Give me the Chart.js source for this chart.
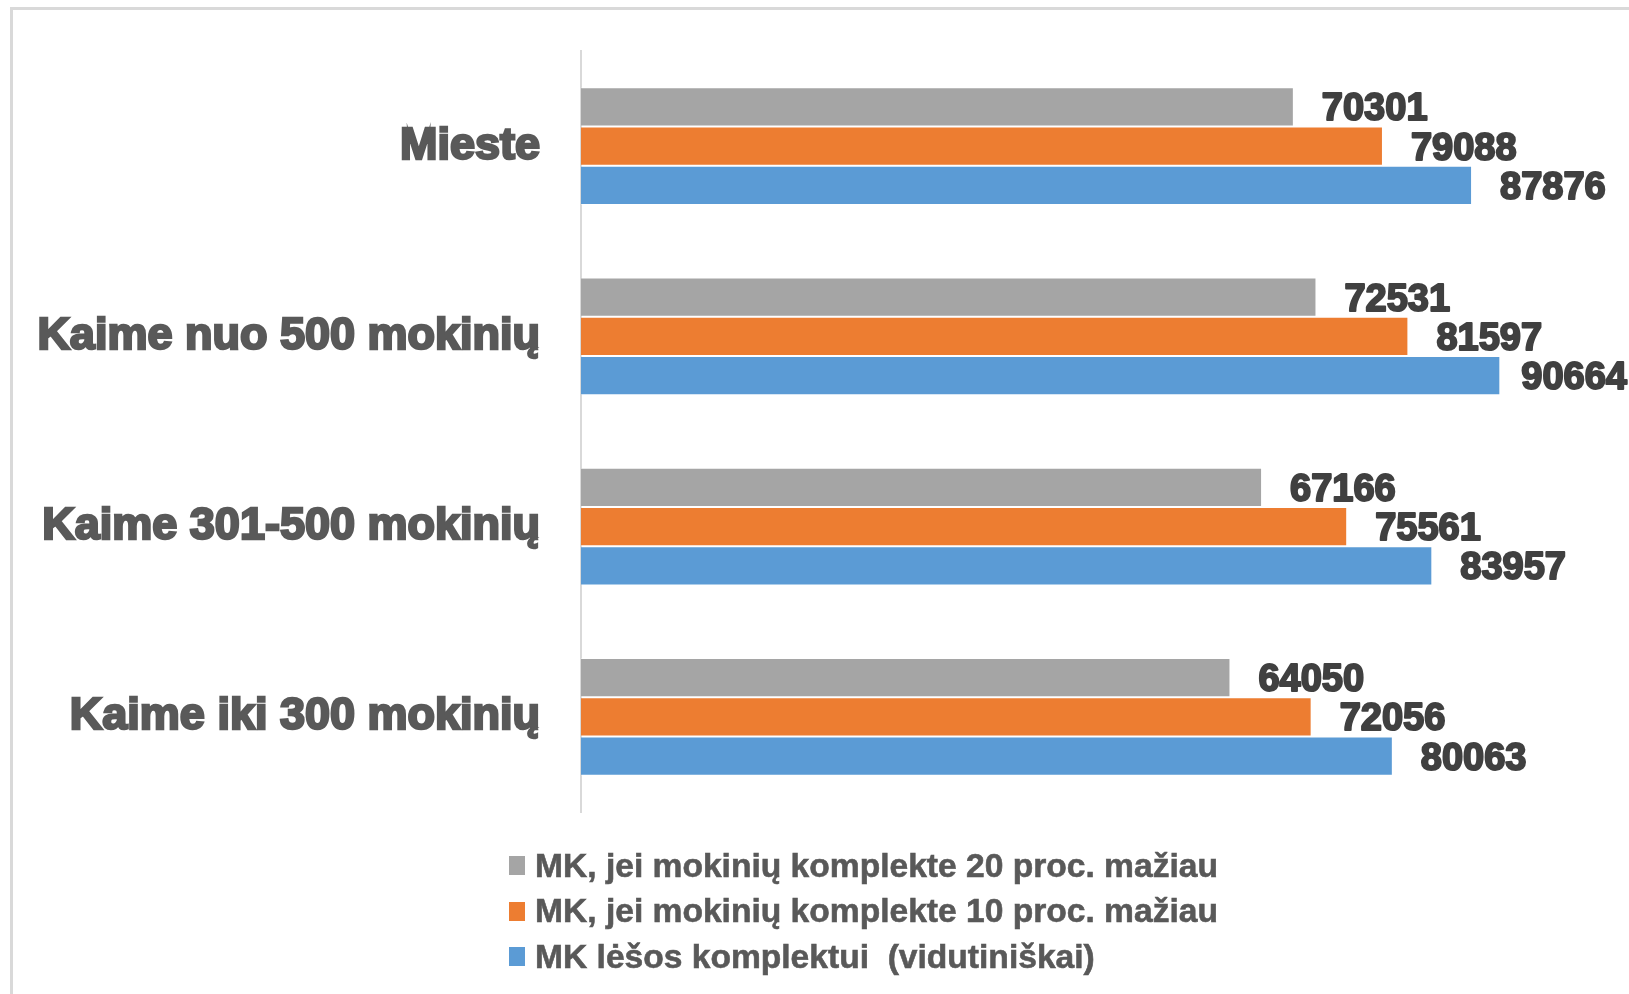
<!DOCTYPE html>
<html>
<head>
<meta charset="utf-8">
<script src="https://cdn.jsdelivr.net/npm/chart.js@4"></script>
<style>
  html, body { margin: 0; padding: 0; background: #fff; overflow: hidden; }
  #frame { position: absolute; left: 10px; top: 7px; width: 2000px; height: 2000px;
           border-left: 3px solid #d9d9d9; border-top: 3px solid #d9d9d9; }
  #wrap { position: absolute; left: 0; top: 0; width: 1629px; height: 994px; }
  #legend { position: absolute; left: 509px; top: 843px; font-family: 'Liberation Sans', Arial, sans-serif;
            font-weight: bold; font-size: 33.6px; color: #595959; -webkit-text-stroke: 0.6px #595959;
            white-space: pre; }
  #legend .row { display: flex; align-items: center; height: 45.5px; }
  #legend .box { width: 16px; height: 19px; margin-right: 10px; }
</style>
</head>
<body>
<div id="frame"></div>
<div id="wrap"><canvas id="barChart"></canvas></div>
<div id="legend"></div>
<script>
(() => {
    'use strict';

    // Duomenys
    const categories = ['Mieste', 'Kaime nuo 500 mokinių', 'Kaime 301-500 mokinių', 'Kaime iki 300 mokinių'];
    const seriesNames = [
        'MK, jei mokinių komplekte 20 proc. mažiau',
        'MK, jei mokinių komplekte 10 proc. mažiau',
        'MK lėšos komplektui  (vidutiniškai)'
    ];
    const less20 = [70301, 72531, 67166, 64050];
    const less10 = [79088, 81597, 75561, 72056];
    const average = [87876, 90664, 83957, 80063];
    const colors = ['#a5a5a5', '#ed7d31', '#5b9bd5'];

    const font = "'Liberation Sans', Arial, sans-serif";

    // Reikšmių etiketės prie stulpelių galo
    const valueLabels = {
        id: 'valueLabels',
        afterDatasetsDraw(chart) {
            const ctx = chart.ctx;
            ctx.save();
            ctx.font = 'bold 38px ' + font;
            ctx.fillStyle = '#404040';
            ctx.strokeStyle = '#404040';
            ctx.lineWidth = 2;
            ctx.lineJoin = 'round';
            ctx.textBaseline = 'middle';
            ctx.textAlign = 'left';
            chart.data.datasets.forEach((ds, i) => {
                chart.getDatasetMeta(i).data.forEach((bar, j) => {
                    const text = String(ds.data[j]);
                    const w = ctx.measureText(text).width;
                    const x = Math.min(bar.x + 28, chart.width - w - 2);
                    const y = bar.y + 3;
                    ctx.strokeText(text, x, y);
                    ctx.fillText(text, x, y);
                });
            });
            ctx.restore();
        }
    };

    const barChart = new Chart(document.getElementById('barChart'), {
        type: 'bar',
        data: {
            labels: categories,
            datasets: [less20, less10, average].map((values, i) => ({
                label: seriesNames[i],
                data: values,
                backgroundColor: colors[i],
                borderColor: 'rgba(255,255,255,0.35)',
                borderWidth: 1,
                barPercentage: 1,
                categoryPercentage: 0.62
            }))
        },
        options: {
            indexAxis: 'y',
            responsive: true,
            maintainAspectRatio: false,
            animation: false,
            layout: { padding: { top: 51, bottom: 182, left: 0, right: 34 } },
            scales: {
                x: {
                    display: false,
                    min: 0,
                    max: 100000
                },
                y: {
                    afterFit(scale) {
                        scale.width = 581;
                        scale.paddingTop = 0;
                        scale.paddingBottom = 0;
                    },
                    grid: { display: false, drawTicks: false },
                    border: { display: true, color: '#d9d9d9', width: 2 },
                    ticks: {
                        color: '#595959',
                        padding: 41,
                        font: { family: font, size: 45, weight: 'bold' },
                        textStrokeColor: '#595959',
                        textStrokeWidth: 2.5
                    }
                }
            },
            plugins: {
                legend: { display: false },
                tooltip: { enabled: false }
            }
        },
        plugins: [valueLabels]
    });

    // Legenda po grafiku
    const legend = document.getElementById('legend');
    seriesNames.forEach((name, i) => {
        const row = document.createElement('div');
        row.className = 'row';
        const box = document.createElement('div');
        box.className = 'box';
        box.style.background = colors[i];
        const label = document.createElement('span');
        label.textContent = name;
        row.appendChild(box);
        row.appendChild(label);
        legend.appendChild(row);
    });
})();
</script>
</body>
</html>
